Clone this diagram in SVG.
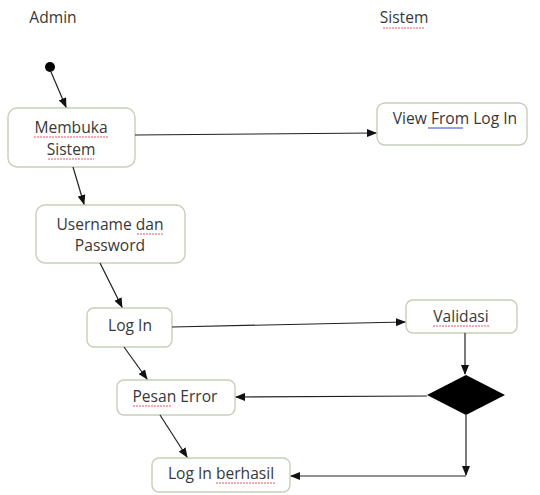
<svg xmlns="http://www.w3.org/2000/svg" width="540" height="495" viewBox="0 0 540 495">
<defs>
<marker id="ah" markerWidth="10" markerHeight="8" refX="9" refY="4" orient="auto" markerUnits="userSpaceOnUse">
<path d="M0,0 L10,4 L0,8 Z" fill="#111"/>
</marker>
<style>
.box{fill:#fff;stroke:#c6cfba;stroke-width:1.4}
.t{font-family:"Open Sans","Liberation Sans",sans-serif;font-size:15.6px;fill:#383838;text-anchor:middle}
.c{fill:none;stroke:#222;stroke-width:1.2;marker-end:url(#ah)}
.sp{fill:none;stroke:#e04858;stroke-width:0.9;stroke-dasharray:2 1}
.bl{fill:none;stroke:#3344cc;stroke-width:1}
</style>
</defs>
<rect width="540" height="495" fill="#fff"/>
<g id="lane-admin"><text class="t" x="53" y="23">Admin</text></g>
<g id="lane-sistem"><text class="t" x="404" y="23">Sistem</text><path class="sp" d="M383,28 H425"/></g>
<g id="start"><circle cx="50" cy="67" r="5" fill="#000"/></g>
<g id="membuka">
<rect class="box" x="8" y="108" width="127" height="59" rx="9"/>
<text class="t" x="71" y="133">Membuka</text>
<text class="t" x="71" y="155">Sistem</text>
<path class="sp" d="M34,137 H108 M48,159 H94"/>
</g>
<g id="view">
<rect class="box" x="377" y="103" width="150" height="42" rx="8"/>
<text class="t" x="455" y="124">View From Log In</text>
<path class="bl" d="M428,128 H463"/>
</g>
<g id="username">
<rect class="box" x="36" y="205" width="149" height="58" rx="9"/>
<text class="t" x="110" y="230">Username dan</text>
<text class="t" x="110" y="251">Password</text>
<path class="sp" d="M137,234 H164"/>
</g>
<g id="login">
<rect class="box" x="87" y="308" width="85" height="39" rx="7"/>
<text class="t" x="130" y="331">Log In</text>
</g>
<g id="validasi">
<rect class="box" x="406" y="300" width="111" height="33" rx="7"/>
<text class="t" x="461" y="322">Validasi</text>
<path class="sp" d="M433,326 H489"/>
</g>
<g id="decision">
<path d="M427,395 L466,375 L505,395 L466,415 Z" fill="#000"/>
</g>
<g id="pesan">
<rect class="box" x="117" y="380" width="118" height="35" rx="7"/>
<text class="t" x="175" y="402">Pesan Error</text>
<path class="sp" d="M133,406 H172"/>
</g>
<g id="berhasil">
<rect class="box" x="152" y="458" width="138" height="34" rx="7"/>
<text class="t" x="221" y="479">Log In berhasil</text>
<path class="sp" d="M216,483 H275"/>
</g>
<g id="connectors">
<path class="c" d="M51,72 L66,107"/>
<path class="c" d="M135,135 L376,133"/>
<path class="c" d="M73,167 L84,204"/>
<path class="c" d="M100,263 L122,307"/>
<path class="c" d="M172,327 L405,322"/>
<path class="c" d="M465,333 L465,374"/>
<path class="c" d="M427,396 L236,397"/>
<path class="c" d="M124,347 L147,379"/>
<path class="c" d="M160,415 L187,457"/>
<path class="c" d="M466,415 L466,475"/>
<path class="c" d="M466,476 L291,476"/>
</g>
</svg>
